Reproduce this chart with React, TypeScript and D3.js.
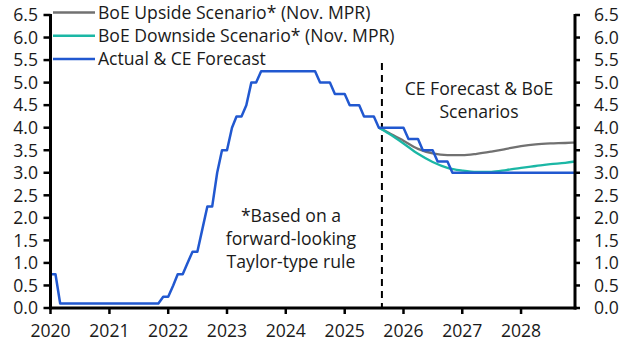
import React from "react";
import * as d3 from "d3";

const W = 630;
const H = 355;

// Bank Rate: actual & CE forecast, monthly from Jan 2020 to Dec 2028
const rateStart = "2020-01-01";
const rateValues: number[] = [
  // 2020
  0.75, 0.75, 0.1, 0.1, 0.1, 0.1, 0.1, 0.1, 0.1, 0.1, 0.1, 0.1,
  // 2021
  0.1, 0.1, 0.1, 0.1, 0.1, 0.1, 0.1, 0.1, 0.1, 0.1, 0.1, 0.25,
  // 2022
  0.25, 0.5, 0.75, 0.75, 1.0, 1.25, 1.25, 1.75, 2.25, 2.25, 3.0, 3.5,
  // 2023
  3.5, 4.0, 4.25, 4.25, 4.5, 5.0, 5.0, 5.25, 5.25, 5.25, 5.25, 5.25,
  // 2024
  5.25, 5.25, 5.25, 5.25, 5.25, 5.25, 5.25, 5.0, 5.0, 5.0, 4.75, 4.75,
  // 2025
  4.75, 4.5, 4.5, 4.5, 4.25, 4.25, 4.25, 4.0, 4.0, 4.0, 4.0, 4.0,
  // 2026
  4.0, 3.75, 3.75, 3.75, 3.5, 3.5, 3.5, 3.25, 3.25, 3.25, 3.0, 3.0,
  // 2027
  3.0, 3.0, 3.0, 3.0, 3.0, 3.0, 3.0, 3.0, 3.0, 3.0, 3.0, 3.0,
  // 2028
  3.0, 3.0, 3.0, 3.0, 3.0, 3.0, 3.0, 3.0, 3.0, 3.0, 3.0, 3.0,
];

// BoE scenarios (Nov. MPR)
const scenarioDates: string[] = [
  "2025-08-01", "2025-10-01", "2026-01-01", "2026-04-01", "2026-07-01",
  "2026-10-01", "2027-01-01", "2027-04-01", "2027-07-01", "2027-10-01",
  "2028-01-01", "2028-04-01", "2028-07-01", "2028-10-01", "2028-12-01",
];
const upsideValues: number[] = [
  4.0, 3.89, 3.71, 3.53, 3.43, 3.39, 3.39, 3.42, 3.47, 3.53,
  3.59, 3.63, 3.65, 3.66, 3.67,
];
const downsideValues: number[] = [
  4.0, 3.87, 3.65, 3.42, 3.24, 3.11, 3.05, 3.02, 3.02, 3.06,
  3.11, 3.15, 3.19, 3.22, 3.25,
];

const dividerDate = "2025-08-20";

const yTicks: number[] = [0, 0.5, 1, 1.5, 2, 2.5, 3, 3.5, 4, 4.5, 5, 5.5, 6, 6.5];
const xTickYears: number[] = [2020, 2021, 2022, 2023, 2024, 2025, 2026, 2027, 2028];

const legendLabels: string[] = [
  "BoE Upside Scenario* (Nov. MPR)",
  "BoE Downside Scenario* (Nov. MPR)",
  "Actual & CE Forecast",
];
const noteRight: string[] = ["CE Forecast & BoE", "Scenarios"];
const noteLeft: string[] = ["*Based on a", "forward-looking", "Taylor-type rule"];

const COLORS = {
  upside: "#717171",
  downside: "#1bb7a5",
  actual: "#2158d0",
  axis: "#000000",
  text: "#1a1a1a",
};

const FONT = "'Open Sans', sans-serif";
const FS = 17.6;

export default function App() {
  const left = 50.5;
  const right = 575;
  const top = 15;
  const bottom = 308;

  const parse = d3.utcParse("%Y-%m-%d");
  const start = parse(rateStart) as Date;
  const rateDates = rateValues.map((_, i) => d3.utcMonth.offset(start, i));

  const x = d3
    .scaleUtc()
    .domain([rateDates[0], rateDates[rateDates.length - 1]])
    .range([left, right]);
  const y = d3.scaleLinear().domain([0, 6.5]).range([bottom, top]);

  const rateLine = d3
    .line<number>()
    .x((_, i) => x(rateDates[i]))
    .y((d) => y(d));

  const sDates = scenarioDates.map((s) => parse(s) as Date);
  const scenLine = d3
    .line<number>()
    .x((_, i) => x(sDates[i]))
    .y((d) => y(d))
    .curve(d3.curveMonotoneX);

  const xTicks = xTickYears.map((yr) => new Date(Date.UTC(yr, 0, 1)));
  const divX = x(parse(dividerDate) as Date);

  const legendColors = [COLORS.upside, COLORS.downside, COLORS.actual];
  const legendY = [12.5, 35.7, 59];

  return (
    <svg
      width={W}
      height={H}
      style={{ position: "absolute", left: 0, top: 0, background: "#fff" }}
      fontFamily={FONT}
    >
      {/* divider */}
      <line
        x1={divX}
        x2={divX}
        y1={63}
        y2={bottom}
        stroke="#000"
        strokeWidth={2}
        strokeDasharray="7,5"
      />

      {/* series */}
      <path d={scenLine(upsideValues) || ""} fill="none" stroke={COLORS.upside} strokeWidth={2.3} />
      <path d={scenLine(downsideValues) || ""} fill="none" stroke={COLORS.downside} strokeWidth={2.3} />
      <path
        d={rateLine(rateValues) || ""}
        fill="none"
        stroke={COLORS.actual}
        strokeWidth={2.5}
        strokeLinejoin="round"
      />

      {/* axes */}
      <line x1={left} x2={left} y1={top - 1} y2={bottom + 1.5} stroke={COLORS.axis} strokeWidth={3} />
      <line x1={right} x2={right} y1={top - 1} y2={bottom + 1.5} stroke={COLORS.axis} strokeWidth={3} />
      <line x1={left - 1.5} x2={right + 1.5} y1={bottom} y2={bottom} stroke={COLORS.axis} strokeWidth={3} />

      {yTicks.map((t) => (
        <g key={"yl" + t}>
          <line x1={left - 7} x2={left} y1={y(t)} y2={y(t)} stroke="#000" strokeWidth={2.5} />
          <line x1={right} x2={right + 5} y1={y(t)} y2={y(t)} stroke="#000" strokeWidth={2.5} />
          <text
            x={38}
            y={y(t)}
            dy="0.36em"
            textAnchor="end"
            fontSize={FS}
            fill={COLORS.text}
          >
            {t.toFixed(1)}
          </text>
          <text x={594} y={y(t)} dy="0.36em" textAnchor="start" fontSize={FS} fill={COLORS.text}>
            {t.toFixed(1)}
          </text>
        </g>
      ))}

      {xTicks.map((d, i) => (
        <g key={"xt" + i}>
          <line x1={x(d)} x2={x(d)} y1={bottom} y2={bottom + 6} stroke="#000" strokeWidth={2.5} />
          <text x={x(d)} y={337} textAnchor="middle" fontSize={FS} fill={COLORS.text}>
            {xTickYears[i]}
          </text>
        </g>
      ))}

      {/* legend */}
      {legendLabels.map((lab, i) => (
        <g key={"lg" + i}>
          <line x1={53} x2={95} y1={legendY[i]} y2={legendY[i]} stroke={legendColors[i]} strokeWidth={2.5} />
          <text x={98} y={legendY[i]} dy="0.36em" fontSize={FS} fill={COLORS.text}>
            {lab}
          </text>
        </g>
      ))}

      {/* annotations */}
      {noteRight.map((s, i) => (
        <text key={"nr" + i} x={479} y={94.5 + i * 23} textAnchor="middle" fontSize={FS} fill={COLORS.text}>
          {s}
        </text>
      ))}
      {noteLeft.map((s, i) => (
        <text key={"nl" + i} x={291} y={222 + i * 23} textAnchor="middle" fontSize={FS} fill={COLORS.text}>
          {s}
        </text>
      ))}
    </svg>
  );
}
